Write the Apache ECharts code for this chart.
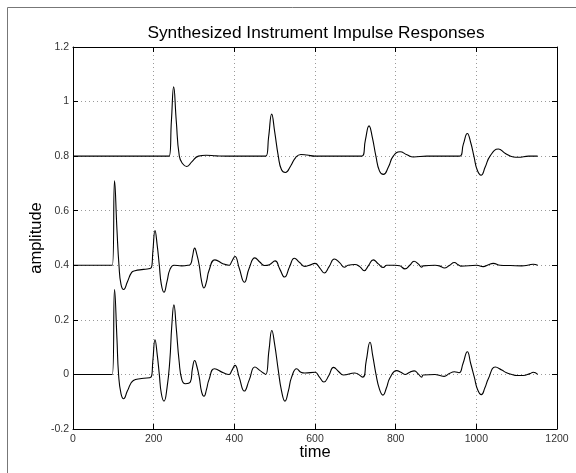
<!DOCTYPE html>
<html>
<head>
<meta charset="utf-8">
<script src="https://cdn.jsdelivr.net/npm/echarts@6/dist/echarts.min.js"></script>
<style>html,body{margin:0;padding:0;background:#fff}#c{width:576px;height:473px}</style>
</head>
<body>
<div id="c"></div>
<script>
// ---- data ----
var topTime = [0,238,244,249.6,256,263.6,272,282,295,311,330,355,380,478,485,492.6,500,509,517,526.5,540,552,565,580,600,716,725,734,742,751,760,769.5,782,794,811,828,844,877,958,968,977.7,986,994,1002,1011.7,1022,1034,1054.6,1072,1091.8,1104,1130,1152];
var topAmp  = [0.8,0.8,0.93,1.054,0.93,0.8,0.772,0.762,0.78,0.8,0.803,0.801,0.8,0.8,0.87,0.954,0.89,0.8,0.75,0.740,0.765,0.795,0.806,0.804,0.8,0.8,0.86,0.911,0.87,0.8,0.745,0.733,0.76,0.8,0.816,0.805,0.797,0.8,0.8,0.845,0.883,0.85,0.8,0.75,0.730,0.76,0.8,0.826,0.81,0.797,0.796,0.8,0.8];

var midTime = [0,97.5,103,109,114,119,125.6,135,145.5,153.7,175,194,198,203.3,209,214,219,225.6,233,240.5,250.4,269.5,285,291.8,296,301.7,307,313,319,324.8,331,337,352,372.8,386.8,394,401.7,412,424.8,437,451,463,475,487,501,513,524.5,537,549,562,575,586,600,612,623,635,648,661,673,682,699,711,722,733,744.6,757,769.5,778,798,810,823,835,845.5,856,864.6,868,897.6,910,920.7,933,945.5,955,961,1001,1017,1030,1042,1059,1085,1112.5,1130,1141,1152];
var midAmp  = [0.4,0.4,0.71,0.53,0.4,0.33,0.311,0.34,0.374,0.380,0.385,0.391,0.45,0.527,0.47,0.4,0.33,0.301,0.34,0.385,0.400,0.398,0.4,0.405,0.43,0.463,0.44,0.4,0.34,0.317,0.34,0.38,0.420,0.405,0.4,0.415,0.432,0.39,0.338,0.39,0.427,0.412,0.399,0.402,0.416,0.385,0.357,0.395,0.426,0.41,0.396,0.4,0.407,0.39,0.372,0.395,0.423,0.41,0.393,0.4,0.403,0.395,0.38,0.4,0.42,0.405,0.392,0.4,0.4,0.398,0.387,0.4,0.415,0.405,0.393,0.398,0.4,0.397,0.39,0.399,0.41,0.402,0.397,0.4,0.395,0.402,0.407,0.4,0.399,0.398,0.401,0.404,0.4];

var botTime = [0,97.5,103,109,113,119,125.6,135,149.6,170,193.4,198,203.3,209,214,219,225.6,233,240,245,250.2,256,263,270,278.5,290.9,296,301.7,307,313,319,324.8,331,337,351,372.8,386.8,394,401.7,412,424.8,437,451,463,472,478,486,493,500,509,517,525.6,534,542,554.6,565,575,600,611,622,634,646,659,670,699,718,727,736.4,743,751,760,768.5,777,786,802.5,813,823,835,846,857,864.6,868,897.6,910,920,933,945.5,957,967,977.7,986,995,1003,1012.5,1021,1030,1047,1063,1075,1088,1100,1116,1133,1141,1152];
var botAmp  = [0,0,0.311,0.13,0,-0.07,-0.089,-0.06,-0.022,-0.015,-0.01,0.05,0.127,0.07,0,-0.07,-0.098,-0.05,0.05,0.18,0.255,0.17,0.05,-0.02,-0.034,-0.028,0.02,0.051,0.03,-0.01,-0.065,-0.08,-0.055,-0.02,0.021,0.006,0,0.015,0.033,-0.01,-0.061,-0.02,0.027,0.015,0.005,0,0.09,0.161,0.11,0.015,-0.06,-0.098,-0.06,-0.01,0.021,0.008,0.005,0.008,-0.01,-0.028,-0.005,0.026,0.01,-0.002,0.005,-0.01,0.05,0.118,0.07,0.002,-0.055,-0.076,-0.05,-0.012,0.014,0.008,0,0.008,0.013,0,-0.01,-0.002,0,-0.004,-0.007,0.003,0.01,0.006,0.04,0.083,0.04,-0.01,-0.055,-0.074,-0.05,-0.015,0.027,0.016,0.006,0,-0.004,-0.004,0.003,0.008,0];

var titleText = 'Synthesized Instrument Impulse Responses';
var xName = 'time', yName = 'amplitude';

function zip(a, b) { return a.map(function (v, i) { return [v, b[i]]; }); }

var FONT = '"Liberation Sans", Arial, Helvetica, sans-serif';
var chart = echarts.init(document.getElementById('c'), null, {renderer: 'canvas'});

function lineSeries(data) {
  return {
    type: 'line', data: data, showSymbol: false, symbol: 'none',
    smooth: 0.5,
    lineStyle: {color: '#000', width: 1.1}, animation: false, z: 5
  };
}

var tickStyle = {show: true, inside: true, length: 5, lineStyle: {color: '#000', width: 1}};
var gridLine = {show: true, lineStyle: {color: '#9a9a9a', type: [1, 3], width: 1}};

chart.setOption({
  animation: false,
  backgroundColor: '#fff',
  title: {
    text: titleText, left: 311, top: 20, textAlign: 'center',
    textStyle: {fontFamily: FONT, fontSize: 17.3, fontWeight: 'normal', color: '#000'}
  },
  graphic: [{
    type: 'rect', shape: {x: 7.5, y: 7.5, width: 700, height: 700},
    style: {fill: 'none', stroke: '#777', lineWidth: 1}, silent: true, z: -1
  }],
  grid: {left: 73, right: 19, top: 47, bottom: 44, containLabel: false},
  xAxis: [{
    type: 'value', min: 0, max: 1200, interval: 200, position: 'bottom',
    name: xName, nameLocation: 'middle', nameGap: 15, nameMoveOverlap: false,
    nameTextStyle: {fontFamily: FONT, fontSize: 16.5, color: '#000', verticalAlign: 'top'},
    axisLine: {show: true, onZero: false, lineStyle: {color: '#000', width: 1}},
    axisTick: tickStyle,
    axisLabel: {fontFamily: FONT, fontSize: 10.5, color: '#333', margin: 5,
      formatter: function (v) { return String(v); }},
    splitLine: gridLine
  }, {
    type: 'value', min: 0, max: 1200, interval: 200, position: 'top',
    axisLine: {show: true, onZero: false, lineStyle: {color: '#000', width: 1}},
    axisTick: tickStyle, axisLabel: {show: false}, splitLine: {show: false}
  }],
  yAxis: [{
    type: 'value', min: -0.2, max: 1.2, interval: 0.2, position: 'left',
    name: yName, nameLocation: 'middle', nameGap: 28, nameMoveOverlap: false,
    nameTextStyle: {fontFamily: FONT, fontSize: 16.5, color: '#000'},
    axisLine: {show: true, onZero: false, lineStyle: {color: '#000', width: 1}},
    axisTick: tickStyle,
    axisLabel: {fontFamily: FONT, fontSize: 10.5, color: '#333', margin: 4,
      formatter: function (v) { return String(Math.round(v * 10) / 10); }},
    splitLine: gridLine
  }, {
    type: 'value', min: -0.2, max: 1.2, interval: 0.2, position: 'right',
    axisLine: {show: true, onZero: false, lineStyle: {color: '#000', width: 1}},
    axisTick: tickStyle, axisLabel: {show: false}, splitLine: {show: false}
  }],
  series: [
    lineSeries(zip(topTime, topAmp)),
    lineSeries(zip(midTime, midAmp)),
    lineSeries(zip(botTime, botAmp))
  ]
});
</script>
</body>
</html>
